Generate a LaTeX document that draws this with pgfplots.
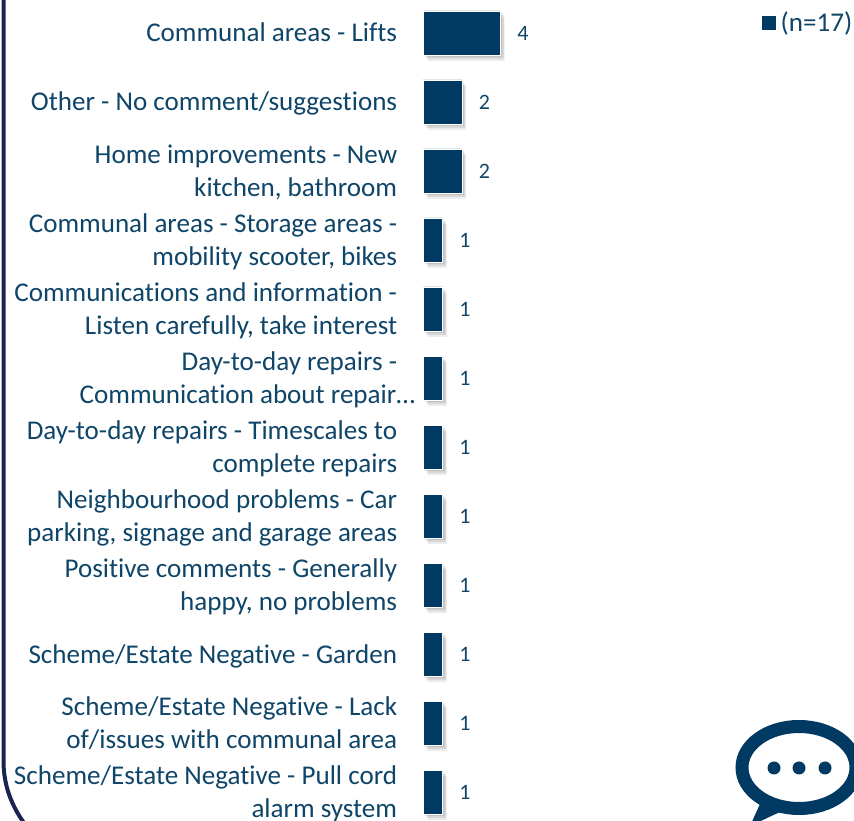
\documentclass[border=0pt]{standalone}
\usepackage{pgfplots}
\pgfplotsset{compat=1.18}
\usepackage{fontspec}
\setmainfont{Carlito}[Ligatures=CommonOff]
\usetikzlibrary{shadows}
\definecolor{barc}{HTML}{003A63}
\definecolor{txt}{HTML}{0F4568}
\definecolor{frame}{HTML}{1A2450}
\newcommand\st{\rule[-4pt]{0pt}{16pt}}
\begin{document}
\begin{tikzpicture}[x=0.75pt,y=0.75pt]
\path[use as bounding box,clip] (0,0) rectangle (854,821);
% frame (decorative)
\draw[frame,line width=3pt] (3.5,826) -- (3.5,60) .. controls (3.5,35) and (12,15) .. (24,-2);
% speech bubble icon (decorative)
\fill[barc] (760,17) -- (750,-5) -- (780,9) -- cycle;
\draw[barc,line width=9.75pt] (799,53.5) ellipse [x radius=57,y radius=41];
\fill[barc] (774,53) circle (6.5);
\fill[barc] (799,53) circle (6.5);
\fill[barc] (825,53) circle (6.5);
\begin{axis}[
  at={(0pt,0pt)},anchor=south west,
  scale only axis,width=640.5pt,height=615.75pt,
  xmin=-21.93,xmax=22.32,ymin=-0.478,ymax=11.42,y dir=reverse,
  axis line style={draw=none},major tick length=0pt,
  xtick=\empty,ytick={0,...,11},
  yticklabels={
    {\st Communal areas - Lifts},
    {\st Other - No comment/suggestions},
    {\st Home improvements - New\\\st kitchen, bathroom},
    {\st Communal areas - Storage areas -\\\st mobility scooter, bikes},
    {\st Communications and information -\\\st Listen carefully, take interest},
    {\st Day-to-day repairs -\\\st Communication about repair…\hspace*{-13.5pt}},
    {\st Day-to-day repairs - Timescales to\\\st complete repairs},
    {\st Neighbourhood problems - Car\\\st parking, signage and garage areas},
    {\st Positive comments - Generally\\\st happy, no problems},
    {\st Scheme/Estate Negative - Garden},
    {\st Scheme/Estate Negative - Lack\\\st of/issues with communal area},
    {\st Scheme/Estate Negative - Pull cord\\\st alarm system}},
  y tick label style={font=\fontsize{20.3}{24.75}\selectfont,text=txt,align=right,anchor=east,inner sep=0pt,xshift=298pt,yshift=-1.7pt},
  xbar,bar width=33pt,bar shift=0pt,
  nodes near coords,
  /pgf/number format/assume math mode=true,
  nodes near coords style={font=\fontsize{16.5}{18}\selectfont,text=txt,anchor=west,inner sep=0pt,xshift=12.5pt},
  legend style={at={(rel axis cs:0.892,0.972)},anchor=west,draw=none,fill=none,inner sep=0pt,outer sep=0pt,
    font=\fontsize{20.3}{22}\selectfont,text=txt,
    legend cell align=left},
]
\addlegendimage{legend image code/.code={\fill[barc] (0pt,-4.9pt) rectangle (9.8pt,4.9pt);\path[draw=none] (0pt,0pt) -- (12pt,0pt);}}
\addplot[forget plot,fill=barc,draw=white,line width=0.4pt,
  drop shadow={shadow xshift=1.5pt,shadow yshift=-1.5pt,opacity=0.10,fill=black},
  drop shadow={shadow xshift=2.5pt,shadow yshift=-3pt,opacity=0.09,fill=black},
  drop shadow={shadow xshift=3.2pt,shadow yshift=-4.5pt,opacity=0.07,fill=black}]
  table[x=v,y=i]{
i v
0 4
1 2
2 2
3 1
4 1
5 1
6 1
7 1
8 1
9 1
10 1
11 1
};
\addlegendentry{(n=17)}
\end{axis}
\end{tikzpicture}
\end{document}
